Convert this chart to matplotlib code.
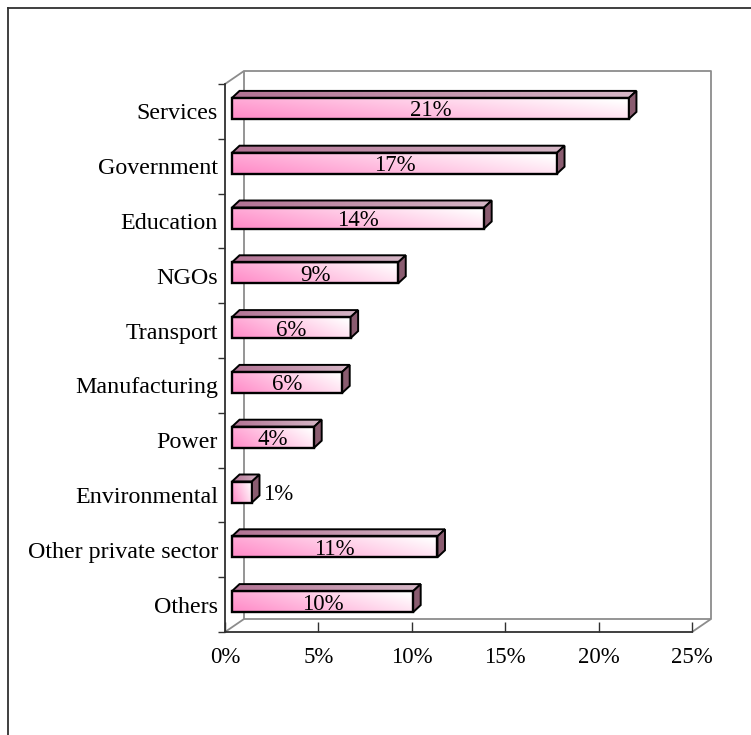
import numpy as np
import matplotlib.pyplot as plt
from matplotlib.patches import Polygon
from matplotlib.lines import Line2D

# data, top to bottom as in the chart
categories = ['Services', 'Government', 'Education', 'NGOs', 'Transport',
              'Manufacturing', 'Power', 'Environmental', 'Other private sector', 'Others']
values = [21.25, 17.4, 13.5, 8.9, 6.35, 5.9, 4.4, 1.07, 11.0, 9.7]
value_labels = ['21%', '17%', '14%', '9%', '6%', '6%', '4%', '1%', '11%', '10%']
x_ticks = [0, 5, 10, 15, 20, 25]
x_tick_labels = ['0%', '5%', '10%', '15%', '20%', '25%']

plt.rcParams['font.family'] = ['Liberation Serif', 'DejaVu Serif']

W, H = 751, 735
fig = plt.figure(figsize=(W / 100, H / 100), dpi=100)
fig.patch.set_facecolor('white')

# front plane of the 3d box, in pixels
left, right, top, bottom = 225, 692, 84, 632
ax = fig.add_axes([left / W, 1 - bottom / H, (right - left) / W, (bottom - top) / H])
ax.set_facecolor('none')

n = len(categories)
ux = (right - left) / 25.0      # px per percent
uy = (bottom - top) / n         # px per category

# wall depth and bar geometry (converted from px)
wdx, wdy = 19 / ux, 13 / uy
bar_x0 = 7 / ux
bar_dy = 3 / uy
bar_half = 10.5 / uy
bdx, bdy = 7.5 / ux, 7 / uy

gray = '#8c8c8c'
dark = '#303030'

# back wall and floor edges
for xs, ys in [([wdx, 25 + wdx, 25 + wdx, wdx, wdx], [wdy, wdy, n + wdy, n + wdy, wdy]),
               ([0, wdx], [0, wdy]), ([25, 25 + wdx], [0, wdy]), ([0, wdx], [n, n + wdy])]:
    ax.plot(xs, ys, color=gray, lw=1.3, clip_on=False, zorder=1,
            solid_capstyle='butt')

pink = np.array([1.0, 0.56, 0.79])
white = np.array([1.0, 1.0, 1.0])
xf = np.linspace(0, 1, 128)[None, :]
yf = np.linspace(1, 0, 24)[:, None]
t = np.clip(0.8 * xf + 0.3 * yf - 0.05, 0, 1)[..., None]
front_grad = pink * (1 - t) + white * t

top_a = np.array([0.70, 0.45, 0.58])
top_b = np.array([0.84, 0.72, 0.78])
ts = np.linspace(0, 1, 128)[None, :, None]
top_grad = np.repeat(top_a * (1 - ts) + top_b * ts, 4, axis=0)

for i, (cat, v, lab) in enumerate(zip(categories, values, value_labels)):
    yc = n - i - 0.5 + bar_dy
    y0, y1 = yc - bar_half, yc + bar_half
    x0, x1 = bar_x0, bar_x0 + v

    # front face
    ax.imshow(front_grad, extent=(x0, x1, y0, y1), aspect='auto',
              interpolation='bilinear', zorder=3)
    ax.add_patch(Polygon([(x0, y0), (x1, y0), (x1, y1), (x0, y1)], closed=True,
                         fc='none', ec='black', lw=1.7, zorder=4))
    # top face
    tp = Polygon([(x0, y1), (x1, y1), (x1 + bdx, y1 + bdy), (x0 + bdx, y1 + bdy)],
                 closed=True, fc='none', ec='black', lw=1.4, zorder=4)
    ax.add_patch(tp)
    im = ax.imshow(top_grad, extent=(x0, x1 + bdx, y1, y1 + bdy), aspect='auto',
                   interpolation='bilinear', zorder=3)
    im.set_clip_path(tp)
    # right face
    ax.add_patch(Polygon([(x1, y0), (x1, y1), (x1 + bdx, y1 + bdy), (x1 + bdx, y0 + bdy)],
                         closed=True, fc='#8a5c70', ec='black', lw=1.4, zorder=4))

    if v < 2:
        ax.text(x1 + bdx + 4 / ux, yc, lab, ha='left', va='center_baseline',
                fontsize=16.5, zorder=5)
    else:
        ax.text((x0 + x1) / 2, yc, lab, ha='center', va='center_baseline',
                fontsize=16.5, zorder=5)

ax.set_xlim(0, 25)
ax.set_ylim(0, n)

for s in ['top', 'right']:
    ax.spines[s].set_visible(False)
for s in ['left', 'bottom']:
    ax.spines[s].set_color(dark)
    ax.spines[s].set_linewidth(1.3)

ax.set_xticks(x_ticks)
ax.set_xticklabels(x_tick_labels, fontsize=16.5)
ax.tick_params(axis='x', direction='in', length=7, width=1, color=dark, pad=11)

ax.set_yticks(np.arange(0, n + 1))
ax.set_yticklabels([])
ax.tick_params(axis='y', which='major', direction='out', length=5, width=1, color=dark)
ax.set_yticks(np.arange(n) + 0.5, minor=True)
ax.set_yticklabels(categories[::-1], minor=True, fontsize=17.3)
ax.tick_params(axis='y', which='minor', length=0, pad=5)
for lbl in ax.get_yticklabels(minor=True):
    lbl.set_verticalalignment('center_baseline')

# outer frame (only left and top edges visible)
fig.add_artist(Line2D([8 / W, 8 / W], [0, 1 - 8 / H], color=dark, lw=1.3))
fig.add_artist(Line2D([8 / W, 1], [1 - 8 / H, 1 - 8 / H], color=dark, lw=1.3))

fig.savefig('out.png', dpi=100, facecolor='white')
